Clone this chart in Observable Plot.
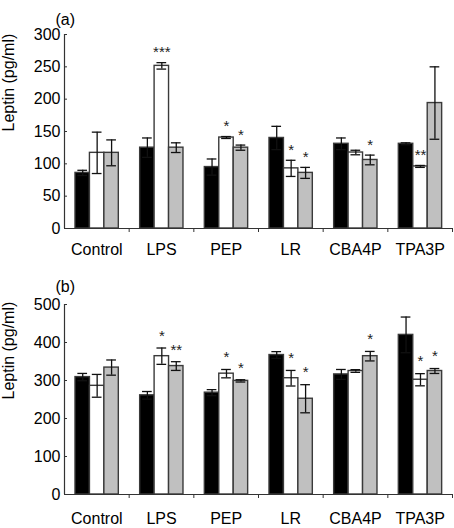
<!DOCTYPE html>
<html>
<head>
<meta charset="utf-8">
<script src="https://cdn.jsdelivr.net/npm/d3@7"></script>
<script src="https://cdn.jsdelivr.net/npm/@observablehq/plot@0.6"></script>
<style>
  body { margin: 0; background: #fff; }
  #chart svg { display: block; }
</style>
</head>
<body>
<div id="chart"></div>
<script>
// ---- data ----
const categories = ["Control", "LPS", "PEP", "LR", "CBA4P", "TPA3P"];
const seriesNames = ["Group 1", "Group 2", "Group 3"];

// Panel (a)
const aMean1 = [86, 125, 95, 140, 131, 131];
const aErr1  = [4, 15, 12.5, 18, 9, 1.5];
const aMean2 = [117, 251.5, 140.7, 93, 117.5, 96];
const aErr2  = [32, 5, 1.5, 12.5, 3.5, 1.5];
const aMean3 = [117, 125, 125, 86, 106, 194];
const aErr3  = [20, 7.5, 4, 8.5, 7.5, 56];
const aStars1 = ["", "", "", "", "", ""];
const aStars2 = ["", "***", "*", "*", "", "**"];
const aStars3 = ["", "", "*", "*", "*", ""];
const aTicks = [0, 50, 100, 150, 200, 250, 300];

// Panel (b)
const bMean1 = [309, 261, 268, 367, 316, 420];
const bErr1  = [9.6, 10, 8, 9, 13, 47];
const bMean2 = [286, 364, 318, 306, 325, 302];
const bErr2  = [30, 21.5, 11, 20.5, 3.5, 16];
const bMean3 = [334, 338, 299, 252, 364, 325];
const bErr3  = [20, 11.5, 3, 37, 12.5, 6.5];
const bStars1 = ["", "", "", "", "", ""];
const bStars2 = ["", "*", "*", "*", "", "*"];
const bStars3 = ["", "**", "*", "*", "*", "*"];
const bTicks = [0, 100, 200, 300, 400, 500];

const yLabel = "Leptin (pg/ml)";

// ---- layout constants ----
const FONT = "'Liberation Sans', Arial, Helvetica, sans-serif";
const fills = ["#000000", "#ffffff", "#c0c0c0"];
const groupPad = 0.17;          // offset of the first bar inside each category slot
const barW = 0.2233;            // bar width in category units
const capHalf = 0.075;          // half width of the error-bar caps

function buildRows(means, errs, stars) {
  const rows = [];
  categories.forEach((cat, i) => {
    for (let s = 0; s < 3; s++) {
      const x1 = i + groupPad + s * barW;
      rows.push({
        cat, i, s, series: seriesNames[s],
        mean: means[s][i], err: errs[s][i], star: stars[s][i],
        x1, x2: x1 + barW, xc: x1 + barW / 2
      });
    }
  });
  return rows;
}

function panel({rows, ticks, yMax, label, height, marginTop, marginBottom, labelDy, xPad, starDy}) {
  return Plot.plot({
    width: 454,
    height,
    marginLeft: 64,
    marginRight: 2,
    marginTop,
    marginBottom,
    style: {fontFamily: FONT, fontSize: "16px", background: "#fff", color: "#000", overflow: "visible"},
    x: {domain: [0, categories.length], axis: null},
    y: {domain: [0, yMax], axis: null},
    marks: [
      Plot.rect(rows, {
        x1: "x1", x2: "x2", y1: 0, y2: "mean",
        fill: d => fills[d.s], stroke: "#3a3a3a", strokeWidth: 1.4
      }),
      Plot.ruleX(rows, {x: "xc", y1: d => d.mean - d.err, y2: d => d.mean + d.err, stroke: "#111", strokeWidth: 1.3}),
      Plot.ruleY(rows, {y: d => d.mean + d.err, x1: d => d.xc - capHalf, x2: d => d.xc + capHalf, stroke: "#111", strokeWidth: 1.3}),
      Plot.ruleY(rows, {y: d => d.mean - d.err, x1: d => d.xc - capHalf, x2: d => d.xc + capHalf, stroke: "#111", strokeWidth: 1.3}),
      Plot.text(rows.filter(d => d.star), {
        x: "xc", y: d => d.mean + d.err, text: "star",
        dy: starDy, fontSize: 15, fill: "#222"
      }),
      Plot.ruleX([0], {stroke: "#333", strokeWidth: 1.2}),
      Plot.ruleY([0], {stroke: "#333", strokeWidth: 1.2}),
      Plot.axisY({ticks, tickSize: 3, dx: 3, tickPadding: 4, fontSize: 16, label: null, stroke: "#333"}),
      Plot.axisX({ticks: d3.range(1, categories.length + 1), tickSize: 4, tickFormat: () => "", label: null, stroke: "#333"}),
      Plot.axisX({
        ticks: categories.map((c, i) => i + 0.5), tickSize: 0, tickPadding: xPad,
        tickFormat: v => categories[Math.floor(v)], fontSize: 16, label: null
      }),
      Plot.text([yLabel], {frameAnchor: "left", rotate: -90, dx: -56, fontSize: 16, fill: "#000"}),
      Plot.text([label], {frameAnchor: "top-left", textAnchor: "start", dx: -9, dy: labelDy, fontSize: 16, fill: "#000"})
    ]
  });
}

const rowsA = buildRows([aMean1, aMean2, aMean3], [aErr1, aErr2, aErr3], [aStars1, aStars2, aStars3]);
const rowsB = buildRows([bMean1, bMean2, bMean3], [bErr1, bErr2, bErr3], [bStars1, bStars2, bStars3]);

const chart = document.getElementById("chart");
chart.append(panel({rows: rowsA, ticks: aTicks, yMax: 300, label: "(a)", height: 262, marginTop: 34, marginBottom: 34, labelDy: -20.5, xPad: 15, starDy: -10}));
chart.append(panel({rows: rowsB, ticks: bTicks, yMax: 500, label: "(b)", height: 266, marginTop: 42, marginBottom: 34, labelDy: -24, xPad: 18, starDy: -12}));
</script>
</body>
</html>
